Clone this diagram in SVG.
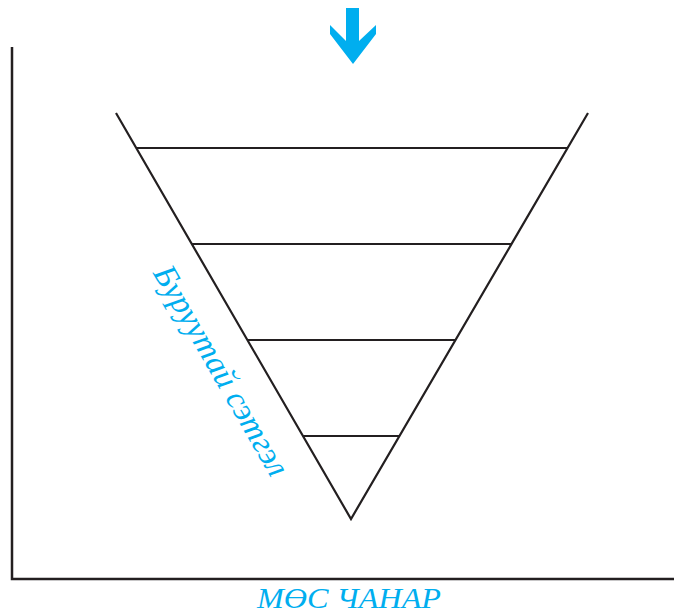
<svg xmlns="http://www.w3.org/2000/svg" width="674" height="613" viewBox="0 0 674 613">
<style>
.ln{stroke:#231F20;stroke-width:2.2;fill:none}
.ax{stroke:#231F20;stroke-width:2.5;fill:none}
.lbl{font-family:"Liberation Serif",serif;font-style:italic;fill:#00AEEF}
</style>
<rect width="674" height="613" fill="#fff"/>
<g id="axes">
<polyline class="ax" points="12,47 12,579 674,579"/>
</g>
<g id="arrow">
<polygon fill="#00AEEF" points="346,8 359,8 359,41 376,25 376,34 353,64 330,34 330,25 346,41"/>
</g>
<g id="funnel">
<polyline class="ln" points="116,113 351,519 588,113"/>
</g>
<g id="connectors">
<line class="ln" x1="136" y1="148" x2="568" y2="148"/>
<line class="ln" x1="191" y1="244" x2="512" y2="244"/>
<line class="ln" x1="247" y1="340" x2="456" y2="340"/>
<line class="ln" x1="303" y1="436" x2="400" y2="436"/>
</g>
<g id="label-side">
<text class="lbl" font-size="33" text-anchor="middle" transform="translate(212,376) rotate(60)">Буруутай сэтгэл</text>
</g>
<g id="label-bottom">
<text class="lbl" font-size="29" x="349" y="608" text-anchor="middle" textLength="184" lengthAdjust="spacingAndGlyphs">МӨС ЧАНАР</text>
</g>
</svg>
